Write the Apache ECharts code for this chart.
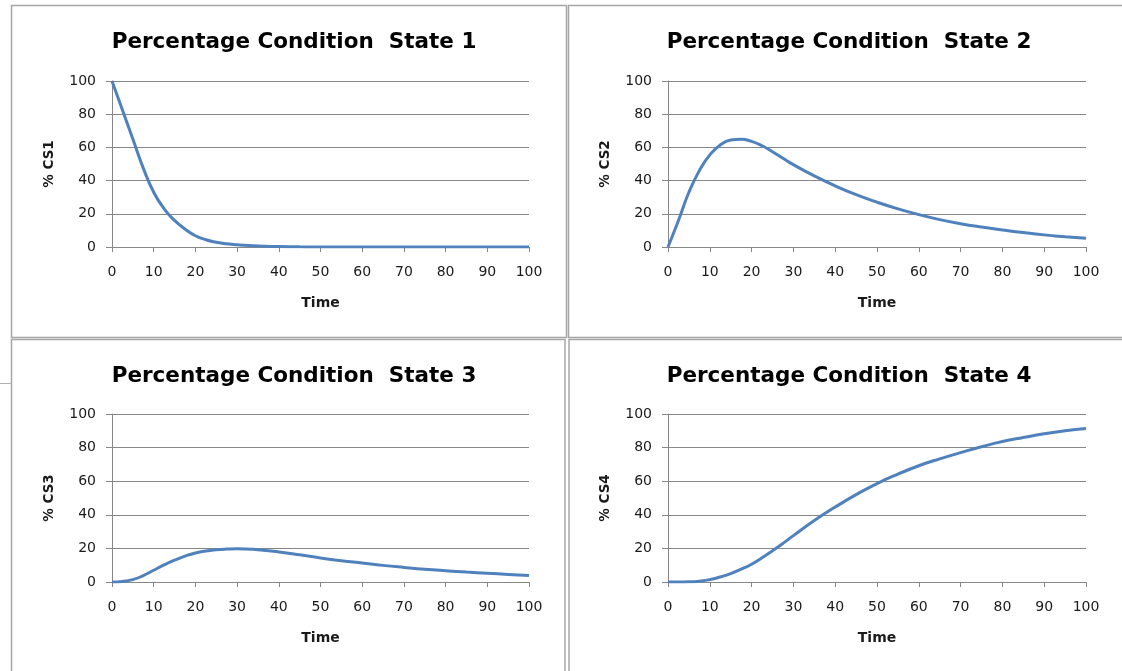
<!DOCTYPE html>
<html>
<head>
<meta charset="utf-8">
<script src="https://cdn.jsdelivr.net/npm/echarts@6/dist/echarts.min.js"></script>
<style>
html,body{margin:0;padding:0;background:#fff;}
#c{width:1122px;height:671px;}
</style>
</head>
<body>
<div id="c"></div>
<script>
const time = [0,2.5,5,7.5,10,12.5,15,17.5,20,22.5,25,27.5,30,35,40,45,50,55,60,65,70,75,80,85,90,95,100];
const cs1 = [100,82.5,65,47.5,33,23,16,10.8,6.8,4.4,2.9,1.9,1.3,0.6,0.3,0.1,0,0,0,0,0,0,0,0,0,0,0];
const cs2 = [0,16,33,46,55.5,61.5,64.4,64.9,63.6,61,57.4,53.5,49.6,42.8,36.8,31.5,27,23,19.5,16.5,14,12,10.3,8.7,7.3,6.2,5.2];
const cs3 = [0,0.3,1.4,3.8,7,10.2,13,15.4,17.3,18.5,19.2,19.6,19.8,19.2,17.9,16.2,14.3,12.7,11.3,9.9,8.7,7.6,6.7,5.9,5.2,4.5,3.8];
const cs4 = [0,0,0.1,0.5,1.4,3,5,7.6,10.6,14.4,18.6,23,27.6,36.6,44.6,52,58.6,64.2,69.2,73.3,77,80.5,83.6,86,88.2,90,91.4];
const titles = ['Percentage Condition  State 1','Percentage Condition  State 2','Percentage Condition  State 3','Percentage Condition  State 4'];
const yNames = ['% CS1','% CS2','% CS3','% CS4'];
const xName = 'Time';
const seriesData = [cs1, cs2, cs3, cs4];

const grids = [
  {left:112, right:593, top:81, bottom:424},
  {left:668, right:36, top:81, bottom:424},
  {left:112, right:593, top:414, bottom:89},
  {left:668, right:36, top:414, bottom:89}
];
const titlePos = [
  {left:289, top:26},
  {left:844, top:26},
  {left:289, top:360},
  {left:844, top:360}
];
const font = '"DejaVu Sans", "Liberation Sans", sans-serif';
const gridColor = '#878787';

const chart = echarts.init(document.getElementById('c'), null, {renderer:'canvas'});
const option = {
  animation:false,
  backgroundColor:'#fff',
  title: titles.map((t,i)=>({
    text:t, left:titlePos[i].left, top:titlePos[i].top, textAlign:'center',
    textStyle:{fontFamily:font, fontWeight:'bold', fontSize:21.5, color:'#000'}
  })),
  grid: grids.map(g=>Object.assign({containLabel:false}, g)),
  xAxis: grids.map((g,i)=>({
    type:'value', gridIndex:i, min:0, max:100, interval:10,
    name:xName, nameLocation:'middle', nameGap:49,
    nameTextStyle:{fontFamily:font, fontWeight:'bold', fontSize:14, color:'#1a1a1a'},
    axisLine:{show:true, onZero:false, lineStyle:{color:gridColor, width:1}},
    axisTick:{show:true, length:5, lineStyle:{color:gridColor}},
    axisLabel:{fontFamily:font, fontSize:14, color:'#1a1a1a', margin:18},
    splitLine:{show:false}
  })),
  yAxis: grids.map((g,i)=>({
    type:'value', gridIndex:i, min:0, max:100, interval:20,
    name:yNames[i], nameLocation:'middle', nameGap:56,
    nameTextStyle:{fontFamily:font, fontWeight:'bold', fontSize:13.5, color:'#1a1a1a'},
    axisLine:{show:true, lineStyle:{color:gridColor, width:1}},
    axisTick:{show:true, length:6, lineStyle:{color:gridColor}},
    axisLabel:{fontFamily:font, fontSize:14, color:'#1a1a1a', margin:16},
    splitLine:{show:true, lineStyle:{color:gridColor, width:1}}
  })),
  series: seriesData.map((d,i)=>({
    type:'line', xAxisIndex:i, yAxisIndex:i,
    data: time.map((t,k)=>[t, d[k]]),
    smooth:0.5, showSymbol:false, symbol:'none',
    lineStyle:{color:'#4F81BD', width:3},
    z:3
  })),
  graphic:[
    {type:'rect', shape:{x:11.5,y:5.5,width:555,height:332}, style:{fill:null, stroke:'#a6a6a6', lineWidth:1.5}, silent:true},
    {type:'rect', shape:{x:568.5,y:5.5,width:600,height:332}, style:{fill:null, stroke:'#a6a6a6', lineWidth:1.5}, silent:true},
    {type:'rect', shape:{x:11.5,y:339.5,width:553.5,height:400}, style:{fill:null, stroke:'#a6a6a6', lineWidth:1.5}, silent:true},
    {type:'rect', shape:{x:569,y:339.5,width:600,height:400}, style:{fill:null, stroke:'#a6a6a6', lineWidth:1.5}, silent:true},
    {type:'line', shape:{x1:0,y1:383.5,x2:11,y2:383.5}, style:{stroke:'#b0b0b0', lineWidth:1}, silent:true}
  ]
};
chart.setOption(option);
</script>
</body>
</html>
